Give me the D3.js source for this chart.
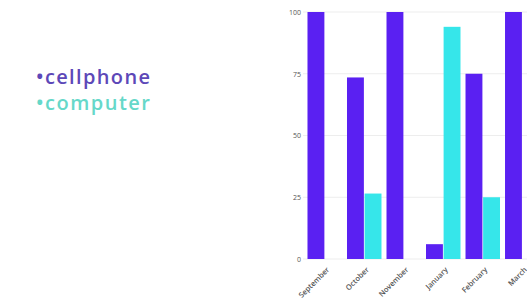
<!DOCTYPE html>
<html>
<head>
<meta charset="utf-8">
<script src="https://cdn.jsdelivr.net/npm/d3@7"></script>
<style>
  body { margin: 0; background: #fff; }
  svg { display: block; }
</style>
</head>
<body>
<div id="canvas"></div>
<script>
// data
let months = ["September", "October", "November", "January", "February", "March"]
let series = ["cellphone", "computer"]
let cellphone = [100, 73.5, 100, 6, 75, 100]
let computer = [0, 26.5, 0, 94, 25, 0]
let yTicks = [0, 25, 50, 75, 100]

let width = 527
let height = 303

let barColor = { cellphone: "#5a20f2", computer: "#36e6ea" }
let textColor = { cellphone: "#5d48b8", computer: "#66d8c9" }

let svg = d3.select("#canvas").append("svg")
    .attr("width", width)
    .attr("height", height)

let rows = months.map((m, i) => ({ month: m, cellphone: cellphone[i], computer: computer[i] }))

// scales
let x0 = d3.scaleBand()
    .domain(months)
    .range([305, 542])
    .paddingInner(0.127)
    .paddingOuter(0.063)

let x1 = d3.scaleBand()
    .domain(series)
    .range([0, x0.bandwidth()])
    .paddingInner(0.04)

let y = d3.scaleLinear()
    .domain([0, 100])
    .range([259, 12])

// gridlines
svg.append("g")
    .selectAll("line")
    .data(yTicks)
    .enter().append("line")
    .attr("x1", 303)
    .attr("x2", width)
    .attr("y1", d => y(d))
    .attr("y2", d => y(d))
    .attr("stroke", "#ededed")
    .attr("stroke-width", 1)

// y axis labels
let yAxis = svg.append("g")
    .attr("transform", "translate(302,0)")
    .call(d3.axisLeft(y).tickValues(yTicks).tickSize(0).tickPadding(1))
yAxis.select(".domain").remove()
yAxis.selectAll("text")
    .attr("font-family", "Open Sans, sans-serif")
    .attr("font-size", 7)
    .attr("fill", "#555")

// bars
let groups = svg.append("g")
    .selectAll("g")
    .data(rows)
    .enter().append("g")
    .attr("transform", d => "translate(" + x0(d.month) + ",0)")

groups.selectAll("rect")
    .data(d => series.map(s => ({ key: s, value: d[s] })))
    .enter().append("rect")
    .attr("x", d => x1(d.key))
    .attr("y", d => y(d.value))
    .attr("width", x1.bandwidth())
    .attr("height", d => y(0) - y(d.value))
    .attr("fill", d => barColor[d.key])

// x labels
let xAxis = svg.append("g")
    .attr("transform", "translate(2," + (y(0) + 8) + ")")
    .call(d3.axisBottom(x0).tickSize(0).tickPadding(0))
xAxis.select(".domain").remove()
xAxis.selectAll("text")
    .attr("font-family", "Open Sans, sans-serif")
    .attr("font-size", 7.5)
    .attr("font-weight", 600)
    .attr("fill", "#555")
    .attr("text-anchor", "end")
    .attr("dy", "0.6em")
    .attr("transform", "rotate(-45)")

// legend
svg.append("g")
    .selectAll("text")
    .data(series)
    .enter().append("text")
    .attr("x", 36)
    .attr("y", (d, i) => 84 + i * 26)
    .attr("font-family", "Open Sans, sans-serif")
    .attr("font-size", 20)
    .attr("font-weight", 600)
    .attr("fill", d => textColor[d])
    .attr("textLength", 114)
    .attr("lengthAdjust", "spacing")
    .text(d => "\u2022" + d)
</script>
</body>
</html>
